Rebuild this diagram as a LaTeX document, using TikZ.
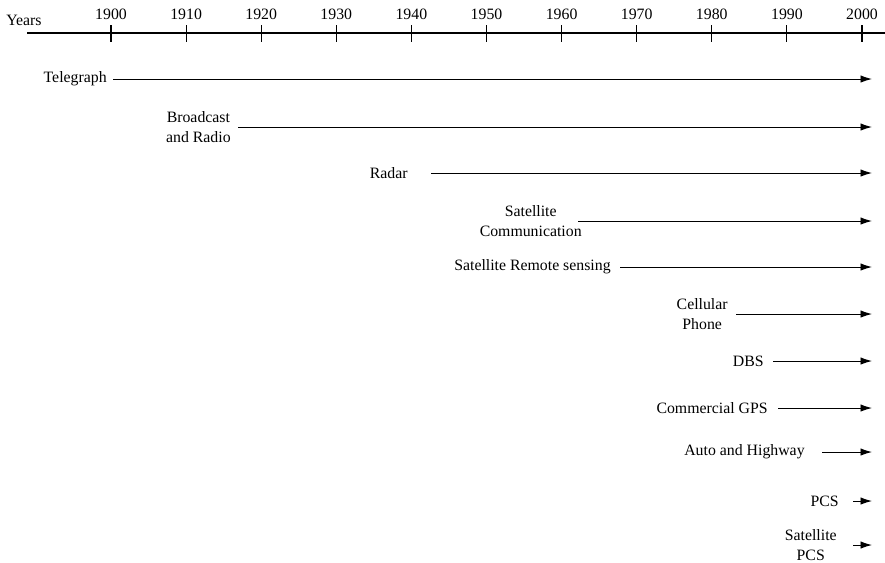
\documentclass[tikz,border=0pt]{standalone}
\usepackage{fontspec}
\setmainfont{Liberation Serif}
\usetikzlibrary{arrows.meta, positioning}

\begin{document}
\begin{tikzpicture}[
  x=0.02cm, y=-0.02cm,
  font=\fontsize{9}{11}\selectfont,
  >={Latex[length=2.3mm, width=1.5mm]},
  evt/.style={->, line width=0.55pt},
  gap/.style={shorten <=#1*0.02cm},
  lbl/.style={anchor=east, inner sep=0pt, align=center},
  yr/.style={inner sep=1pt}
]
  \useasboundingbox (0,0) rectangle (885,562);
  \def\xE{872}

  %--- time axis ---
  \node[inner sep=0pt] (years) at (24,20) {Years};
  \coordinate (axL) at (27,33);
  \coordinate (axR) at (885,33);
  \draw[line width=0.8pt] (axL) -- (axR);
  \foreach \yr in {1900,1910,...,2000} {
    \pgfmathsetmacro\xt{111+7.51*(\yr-1900)}
    \draw[line width=0.6pt] (\xt,25) -- (\xt,42);
    \node[yr] (y\yr) at (\xt,14) {\yr};
  }

  %--- arrow ends (year 2000) ---
  \coordinate (eTel)  at (\xE,79);
  \coordinate (eBro)  at (\xE,127);
  \coordinate (eRad)  at (\xE,173);
  \coordinate (eSCom) at (\xE,221);
  \coordinate (eSRS)  at (\xE,267);
  \coordinate (eCel)  at (\xE,314);
  \coordinate (eDBS)  at (\xE,361);
  \coordinate (eGPS)  at (\xE,408);
  \coordinate (eAuto) at (\xE,452);
  \coordinate (ePCS)  at (\xE,501);
  \coordinate (eSPCS) at (\xE,545);

  %--- technologies ---
  % 1
  \node[lbl] (tel) at (107,79) {Telegraph};
  \draw[evt, gap=6] (tel.east) -- (eTel);
  % 2
  \node[lbl] (bro) at (231,127) {Broadcast\\and Radio};
  \draw[evt, gap=7] (bro.east) -- (eBro);
  % 3
  \node[lbl] (rad) at (408,173) {Radar};
  \draw[evt, gap=23] (rad.east) -- (eRad);
  % 4
  \node[lbl] (scom) at (582,221) {Satellite\\Communication};
  \draw[evt, gap=-4] (scom.east) -- (eSCom);
  % 5
  \node[lbl] (srs) at (611,267) {Satellite Remote sensing};
  \draw[evt, gap=9] (srs.east) -- (eSRS);
  % 6
  \node[lbl] (cel) at (728,314) {Cellular\\Phone};
  \draw[evt, gap=8] (cel.east) -- (eCel);
  % 7
  \node[lbl] (dbs) at (764,361) {DBS};
  \draw[evt, gap=9] (dbs.east) -- (eDBS);
  % 8
  \node[lbl] (gps) at (768,408) {Commercial GPS};
  \draw[evt, gap=10] (gps.east) -- (eGPS);
  % 9
  \node[lbl] (auto) at (805,452) {Auto and Highway};
  \draw[evt, gap=17] (auto.east) -- (eAuto);
  % 10
  \node[lbl] (pcs) at (839,501) {PCS};
  \draw[evt, gap=14] (pcs.east) -- (ePCS);
  % 11
  \node[lbl] (spcs) at (837,545) {Satellite\\PCS};
  \draw[evt, gap=16] (spcs.east) -- (eSPCS);

\end{tikzpicture}
\end{document}
